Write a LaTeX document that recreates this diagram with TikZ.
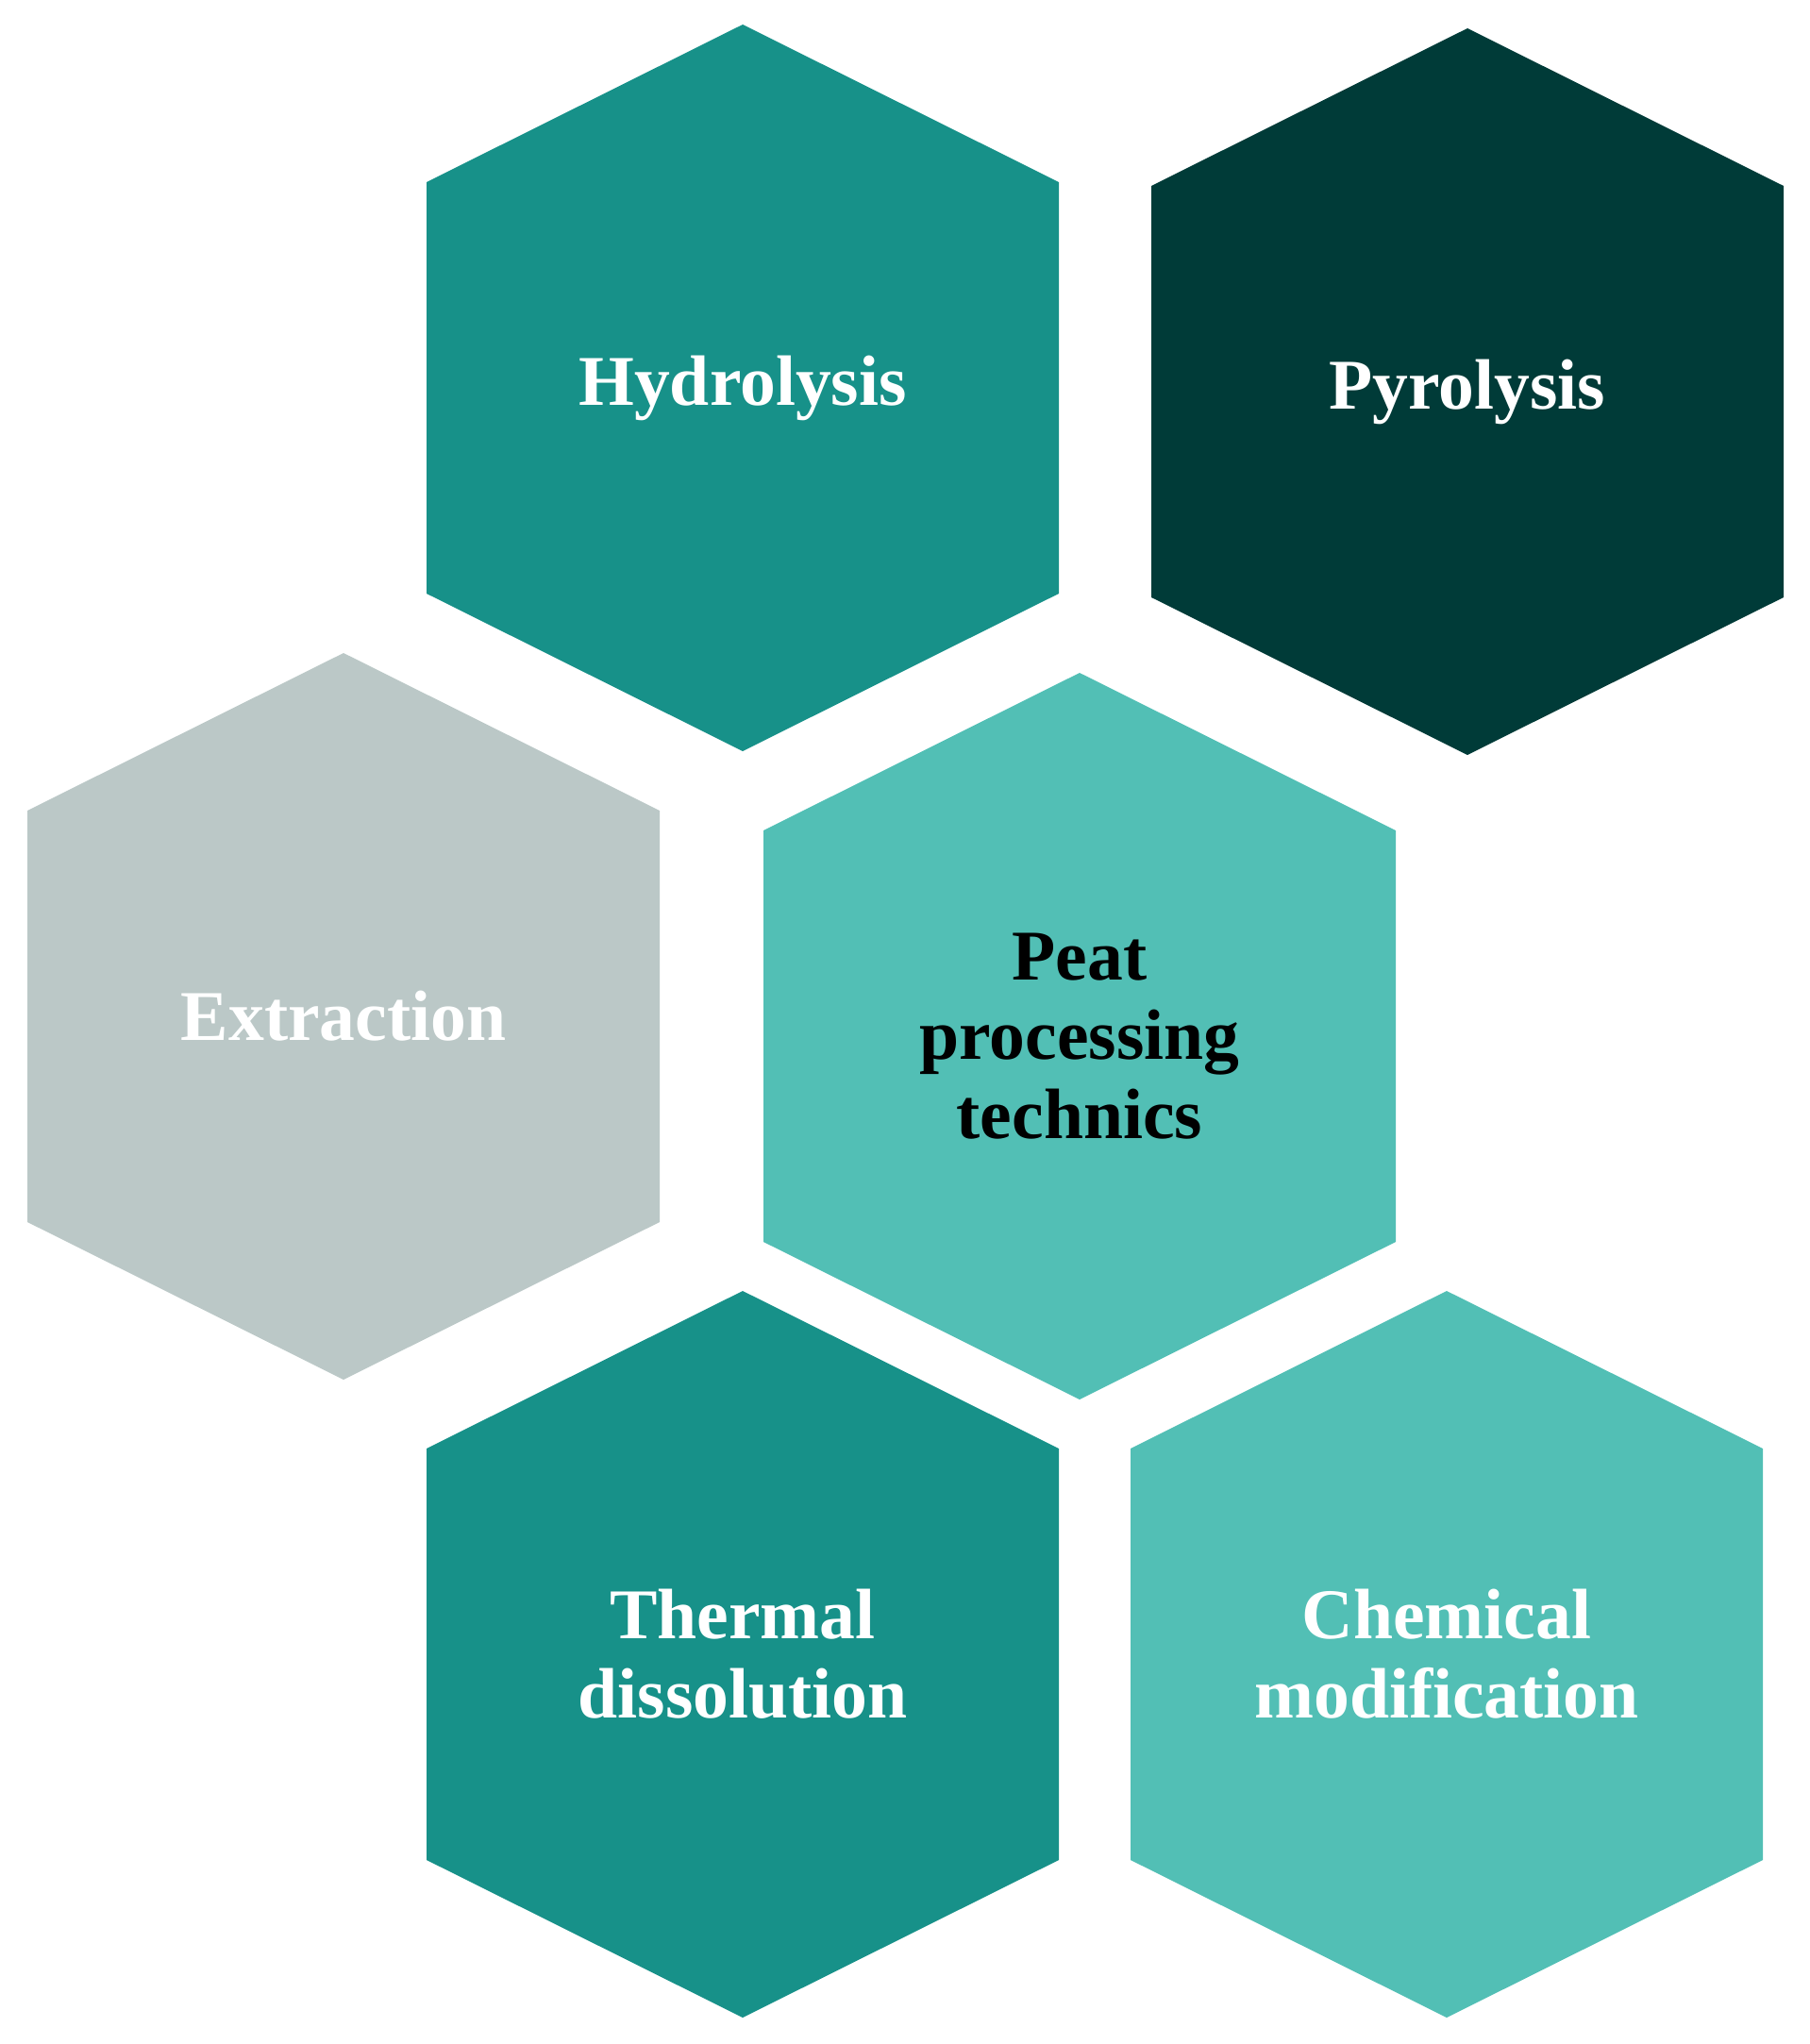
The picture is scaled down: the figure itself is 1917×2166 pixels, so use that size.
\documentclass[tikz,border=0pt]{standalone}
\usepackage{fontspec}
\setmainfont{Liberation Serif}
\definecolor{hexteal}{RGB}{23,145,137}
\definecolor{hexdark}{RGB}{0,59,56}
\definecolor{hexgrey}{RGB}{187,200,199}
\definecolor{hexlight}{RGB}{82,191,181}

\begin{document}
\begin{tikzpicture}[x=0.01cm,y=-0.01cm,
		celltext/.style={align=center,inner sep=0pt,font=\bfseries\fontsize{21.5}{23.9}\selectfont}]
		\useasboundingbox (0,0) rectangle (1917,2166);
		\foreach \n/\cx/\cy/\c/\t/\tc in {
			hydro/787/411/hexteal/Hydrolysis/white,
			pyro/1555/415/hexdark/Pyrolysis/white,
			extr/364/1077/hexgrey/Extraction/white,
			peat/1144/1098/hexlight/{Peat\\processing\\technics}/black,
			therm/787/1753/hexteal/{Thermal\\dissolution}/white,
			chem/1533/1753/hexlight/{Chemical\\modification}/white}
		{
			\fill[\c] (\cx,\cy) ++(0,-385) -- ++(335,167) -- ++(0,436) -- ++(-335,167) -- ++(-335,-167) -- ++(0,-436) -- cycle;
			\node[celltext,text=\tc] (\n) at (\cx,\cy) {\t};
		}
		\end{tikzpicture}
\end{document}
